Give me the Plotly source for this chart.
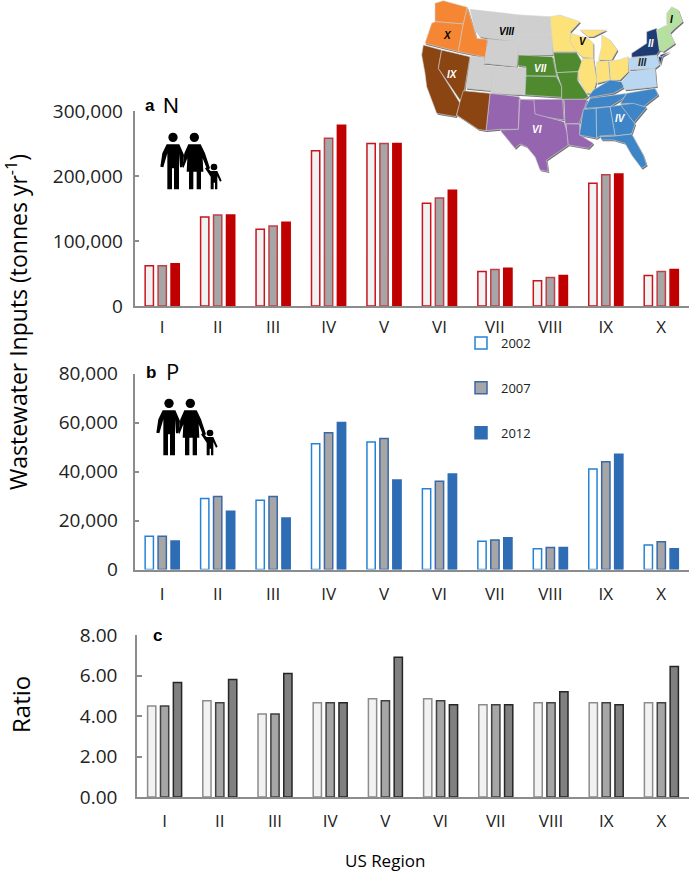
"""Wastewater N and P inputs by US region, with the region map inset."""

import plotly.graph_objects as go

W, H = 696, 872
FONT = "Open Sans"

regions = ["I", "II", "III", "IV", "V", "VI", "VII", "VIII", "IX", "X"]
years = ["2002", "2007", "2012"]

n_2002 = [62000, 137000, 118000, 239000, 250000, 158000, 53000, 39000, 189000, 47000]
n_2007 = [62000, 140000, 123000, 258000, 250000, 166000, 56000, 44000, 202000, 53000]
n_2012 = [65000, 140000, 129000, 278000, 250000, 178000, 58000, 47000, 203000, 56000]

p_2002 = [13600, 29000, 28300, 51300, 52000, 33000, 11500, 8500, 41000, 10000]
p_2007 = [13600, 29800, 29800, 55800, 53500, 36000, 12000, 9000, 44000, 11300]
p_2012 = [11600, 23800, 21000, 60000, 36500, 39000, 13000, 9000, 47000, 8500]

ratio_2002 = [4.5, 4.75, 4.1, 4.65, 4.85, 4.85, 4.55, 4.65, 4.65, 4.65]
ratio_2007 = [4.5, 4.65, 4.1, 4.65, 4.75, 4.75, 4.55, 4.65, 4.65, 4.65]
ratio_2012 = [5.65, 5.8, 6.1, 4.65, 6.9, 4.55, 4.55, 5.2, 4.55, 6.45]

n_fill = ["#f2f2f2", "#a6a6a6", "#c00000"]
n_line = ["#c8141e", "#c0404a", "#c00000"]
p_fill = ["#ffffff", "#a6a6a6", "#2e6db4"]
p_line = ["#2483d6", "#3a68a8", "#2e6db4"]
r_fill = ["#f2f2f2", "#a6a6a6", "#808080"]
r_line = ["#8c8c8c", "#404040", "#262626"]

# Map outlines, traced in 3x crop coordinates of the inset (see map_xy).
MAP = {
    "#f58634": [  # X
        [(165, 10), (190, 2), (262, 22), (250, 72), (165, 65)],
        [(165, 65), (250, 72), (235, 155), (135, 130), (155, 70)],
        [(262, 22), (280, 80), (290, 115), (322, 118), (318, 172), (235, 155), (250, 72)],
    ],
    "#cfcfcf": [  # VIII
        [(270, 28), (420, 45), (417, 125), (325, 115), (300, 110), (285, 90)],
        [(420, 45), (510, 50), (518, 105), (417, 105)],
        [(417, 105), (518, 105), (518, 165), (415, 165)],
        [(325, 118), (417, 125), (410, 200), (312, 190)],
        [(272, 168), (312, 172), (312, 195), (340, 198), (332, 272), (258, 265)],
        [(340, 198), (438, 205), (435, 285), (332, 280)],
    ],
    "#4f8a2f": [  # VII
        [(415, 165), (518, 170), (530, 228), (438, 228), (438, 200), (413, 197)],
        [(520, 158), (590, 158), (608, 190), (595, 215), (530, 218)],
        [(438, 228), (530, 230), (545, 260), (545, 292), (435, 285)],
        [(530, 218), (595, 215), (592, 240), (625, 290), (612, 298), (545, 298), (545, 260)],
    ],
    "#fde27a": [  # V
        [(510, 50), (540, 45), (600, 65), (572, 95), (570, 125), (590, 155), (520, 155)],
        [(572, 100), (625, 115), (640, 130), (640, 175), (608, 172), (590, 155), (570, 125)],
        [(600, 90), (680, 90), (640, 110), (625, 110)],
        [(665, 105), (690, 120), (712, 150), (695, 180), (655, 180), (665, 140)],
        [(608, 175), (640, 175), (650, 240), (640, 280), (620, 280), (595, 235), (595, 215)],
        [(650, 185), (685, 182), (690, 240), (650, 250)],
        [(688, 182), (715, 180), (745, 170), (745, 215), (720, 240), (692, 240)],
    ],
    "#9565b0": [  # VI
        [(330, 280), (418, 290), (415, 388), (360, 388), (318, 392)],
        [(420, 298), (548, 298), (552, 360), (470, 348), (462, 342), (462, 318), (420, 315)],
        [(420, 298), (462, 300), (465, 342), (552, 365), (562, 400), (565, 435), (500, 480),
         (505, 515), (480, 510), (465, 470), (440, 440), (420, 432), (405, 445), (360, 390), (415, 388)],
        [(552, 298), (622, 298), (598, 370), (555, 372)],
        [(558, 372), (598, 372), (600, 405), (640, 430), (625, 445), (565, 435)],
    ],
    "#8a4513": [  # IX
        [(130, 135), (125, 165), (135, 220), (140, 260), (170, 340), (228, 350), (240, 310),
         (175, 205), (185, 150)],
        [(185, 150), (270, 170), (250, 290), (240, 300), (175, 205)],
        [(250, 272), (330, 280), (318, 392), (295, 388), (230, 345), (240, 305)],
    ],
    "#3d85c6": [  # IV
        [(625, 290), (640, 270), (690, 240), (725, 245), (735, 260), (700, 280), (630, 292)],
        [(630, 295), (740, 280), (730, 295), (690, 320), (615, 325)],
        [(740, 280), (825, 265), (835, 285), (790, 320), (745, 310), (720, 312)],
        [(720, 315), (760, 310), (800, 322), (760, 370)],
        [(690, 320), (722, 315), (765, 372), (755, 402), (705, 408)],
        [(660, 410), (705, 408), (755, 402), (790, 465), (800, 495), (785, 505), (755, 465),
         (735, 430), (700, 420), (665, 420)],
        [(648, 325), (690, 320), (705, 405), (660, 408), (650, 415)],
        [(610, 328), (648, 325), (650, 415), (598, 405)],
    ],
    "#b9d7f0": [  # III
        [(745, 175), (830, 165), (838, 195), (825, 205), (748, 210)],
        [(725, 245), (750, 215), (825, 205), (830, 260), (735, 270)],
    ],
    "#1f3b73": [  # II
        [(755, 160), (800, 130), (800, 95), (830, 85), (840, 150), (830, 165), (755, 172)],
        [(835, 170), (848, 168), (840, 195)],
        [(840, 165), (870, 155), (842, 172)],
    ],
    "#b5e0a0": [  # I
        [(860, 40), (875, 20), (895, 30), (908, 65), (885, 85), (870, 100), (860, 70)],
        [(830, 90), (860, 75), (870, 100), (885, 130), (850, 155), (838, 150)],
    ],
}
MAP_LABELS = [
    ("X", 202, 108, "black"), ("VIII", 380, 93, "black"), ("VII", 480, 205, "white"),
    ("V", 610, 125, "black"), ("II", 812, 130, "white"), ("I", 875, 60, "black"),
    ("III", 787, 187, "#222222"), ("IX", 218, 225, "white"), ("VI", 470, 388, "white"),
    ("IV", 720, 357, "white"),
]

# Family icon, traced in 3x crop coordinates of panel a.
FAMILY_PARTS = [
    [(500, 163), (538, 163), (552, 195), (548, 232), (540, 232), (537, 190), (537, 298), (522, 298),
     (522, 235), (516, 235), (516, 298), (502, 298), (502, 190), (490, 232), (481, 230), (487, 190)],
    [(565, 163), (602, 163), (615, 190), (630, 235), (622, 240), (608, 205), (610, 245), (603, 245),
     (603, 298), (590, 298), (590, 245), (580, 245), (580, 298), (567, 298), (567, 245), (560, 245),
     (562, 205), (550, 235), (548, 225), (553, 190)],
    [(632, 243), (652, 243), (665, 272), (660, 275), (652, 258), (652, 298), (645, 298), (645, 278),
     (641, 278), (641, 298), (632, 298), (632, 260), (615, 235), (620, 232)],
]
FAMILY_HEADS = [(519, 142, 14), (583, 142, 14), (642, 231, 10)]


def px(x):
    return x / W


def py(y):
    return 1 - y / H


def map_xy(x, y):
    return 380 + x / 3, y / 3


def poly_path(points):
    cmds = [f"{px(x):.5f} {py(y):.5f}" for x, y in points]
    return "M" + " L".join(cmds) + " Z"


def polygon(points, fill, line=None, width=0.0):
    return dict(
        type="path", xref="paper", yref="paper", path=poly_path(points), layer="above",
        fillcolor=fill, line=dict(color=line or fill, width=width),
    )


def note(text, x, y, size, color="black", family=FONT, angle=0):
    return dict(
        text=text, x=px(x), y=py(y), xref="paper", yref="paper", showarrow=False,
        font=dict(size=size, color=color, family=family), textangle=angle,
        xanchor="center", yanchor="middle",
    )


fig = go.Figure()

panels = [
    ("x", "y", [n_2002, n_2007, n_2012], n_fill, n_line),
    ("x2", "y2", [p_2002, p_2007, p_2012], p_fill, p_line),
    ("x3", "y3", [ratio_2002, ratio_2007, ratio_2012], r_fill, r_line),
]
for xa, ya, series, fills, lines in panels:
    for year, vals, fill, line in zip(years, series, fills, lines):
        fig.add_trace(
            go.Bar(
                x=regions, y=vals, name=year, xaxis=xa, yaxis=ya,
                marker=dict(color=fill, line=dict(color=line, width=1.5)),
                legendgroup=year, showlegend=xa == "x2",
            )
        )

axis_line = dict(showline=True, linecolor="#8c8c8c", linewidth=1.5, showgrid=False, zeroline=False)
xstyle = dict(axis_line, ticks="", tickfont=dict(size=17, family=FONT, color="#222222"))
ystyle = dict(
    axis_line, ticks="inside", ticklen=5, tickcolor="#8c8c8c", tickwidth=1.5,
    tickfont=dict(size=19, family=FONT, color="#222222"),
)

fig.update_layout(
    width=W, height=H, margin=dict(l=0, r=0, t=0, b=0, autoexpand=False), autosize=False,
    plot_bgcolor="white", paper_bgcolor="white",
    barmode="group", bargap=0.3, bargroupgap=0.36,
    xaxis=dict(xstyle, domain=[px(134.5), px(689)], anchor="y", ticklabelstandoff=5),
    yaxis=dict(ystyle, domain=[py(306), py(111)], anchor="x", range=[0, 300000],
               tickvals=[0, 100000, 200000, 300000], tickformat=",", ticklabelstandoff=6),
    xaxis2=dict(xstyle, domain=[px(134.5), px(689)], anchor="y2", ticklabelstandoff=8),
    yaxis2=dict(ystyle, domain=[py(569.5), py(373.5)], anchor="x2", range=[0, 80000],
                tickvals=[0, 20000, 40000, 60000, 80000], tickformat=",", ticklabelstandoff=11),
    xaxis3=dict(xstyle, domain=[px(137), px(689)], anchor="y3", ticklabelstandoff=8),
    yaxis3=dict(ystyle, domain=[py(797), py(635)], anchor="x3", range=[0, 8],
                tickvals=[0, 2, 4, 6, 8], tickformat=".2f", ticklabelstandoff=14),
    legend=dict(
        x=px(461), y=py(328), xanchor="left", yanchor="top", tracegroupgap=25,
        font=dict(size=13, family=FONT, color="#222222"), bgcolor="rgba(0,0,0,0)",
    ),
)

shapes = []
for fill, polys in MAP.items():
    for poly in polys:
        shadow = [map_xy(x + 3, y + 4) for x, y in poly]
        shapes.append(polygon(shadow, "#6f6f6f"))
for fill, polys in MAP.items():
    for poly in polys:
        shapes.append(polygon([map_xy(x, y) for x, y in poly], fill, "#d4d4d4", 0.6))

# Panel a icon, then the same icon moved to panel b.
for dx, dy in [(0, 90), (-4, 356)]:
    for part in FAMILY_PARTS:
        shapes.append(polygon([(x / 3 + dx, y / 3 + dy) for x, y in part], "black"))
    for cx, cy, r in FAMILY_HEADS:
        x0, y0 = cx / 3 + dx, cy / 3 + dy
        shapes.append(dict(
            type="circle", xref="paper", yref="paper", layer="above", fillcolor="black",
            x0=px(x0 - r / 3), x1=px(x0 + r / 3), y0=py(y0 - r / 3), y1=py(y0 + r / 3),
            line=dict(width=0),
        ))
fig.update_layout(shapes=shapes)

annotations = [
    note("Wastewater Inputs (tonnes yr<sup>-1</sup>)", 17, 322, 23, angle=-90),
    note("Ratio", 20, 705, 24, angle=-90),
    note("US Region", 385, 860, 17),
    note("<b>a</b>", 150, 105, 17, family="Liberation Sans"),
    note("N", 171, 105, 22, family="Liberation Sans"),
    note("<b>b</b>", 151, 372, 17, family="Liberation Sans"),
    note("P", 172, 371, 22, family=FONT),
    note("<b>c</b>", 157, 635, 17, family="Liberation Sans"),
]
for text, x, y, color in MAP_LABELS:
    mx, my = map_xy(x, y)
    annotations.append(note(f"<b><i>{text}</i></b>", mx, my, 10, color=color, family="Liberation Sans"))
fig.update_layout(annotations=annotations)

fig.write_html(
    "out.html",
    config=dict(displayModeBar=False),
    post_script="document.body.style.margin='0';",
)
